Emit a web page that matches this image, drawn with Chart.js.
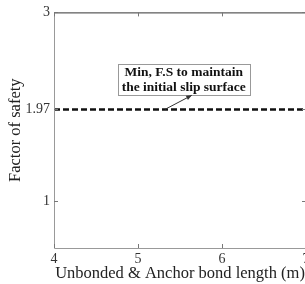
<!DOCTYPE html>
<html>
<head>
<meta charset="utf-8">
<script src="https://cdn.jsdelivr.net/npm/chart.js@4/dist/chart.umd.min.js"></script>
<style>
  html, body { margin: 0; padding: 0; background: #fff; overflow: hidden; }
  #wrap { width: 330px; height: 284px; }
</style>
</head>
<body>
<div id="wrap"><canvas id="fsChart"></canvas></div>
<script>
// data
const bondLength = [4, 7];
const minFS = [1.97, 1.97];
const yTicks = [1, 1.97, 3];
const xTicks = [4, 5, 6, 7];
const noteLines = ['Min, F.S to maintain', 'the initial slip surface'];
// note box and arrow, in data units
const noteBox = { x1: 4.76, x2: 6.33, y1: 2.45, y2: 2.12 };
const noteArrow = { fromX: 5.32, fromY: 1.97, toX: 5.64, toY: 2.12 };

const serif = '"Liberation Serif", "DejaVu Serif", serif';

// border + inward ticks like a matlab box
const boxPlugin = {
    id: 'boxPlugin',
    afterDatasetsDraw(chart) {
        const { ctx, chartArea: a, scales } = chart;
        ctx.save();
        ctx.lineWidth = 1;
        // left & bottom grey, top & right dark
        ctx.strokeStyle = '#999';
        ctx.beginPath();
        ctx.moveTo(a.left + 0.5, a.top);
        ctx.lineTo(a.left + 0.5, a.bottom + 0.5);
        ctx.lineTo(a.right, a.bottom + 0.5);
        ctx.stroke();
        ctx.strokeStyle = '#333';
        ctx.beginPath();
        ctx.moveTo(a.left, a.top + 0.5);
        ctx.lineTo(a.right + 0.5, a.top + 0.5);
        ctx.lineTo(a.right + 0.5, a.bottom);
        ctx.stroke();
        // ticks
        ctx.strokeStyle = '#777';
        xTicks.forEach(v => {
            const px = Math.round(scales.x.getPixelForValue(v)) + 0.5;
            ctx.beginPath();
            ctx.moveTo(px, a.bottom); ctx.lineTo(px, a.bottom - 4);
            ctx.moveTo(px, a.top); ctx.lineTo(px, a.top + 4);
            ctx.stroke();
        });
        yTicks.forEach(v => {
            const py = Math.round(scales.y.getPixelForValue(v)) + 0.5;
            ctx.beginPath();
            ctx.moveTo(a.left, py); ctx.lineTo(a.left + 4, py);
            ctx.moveTo(a.right, py); ctx.lineTo(a.right - 4, py);
            ctx.stroke();
        });

        // note box
        const bx1 = scales.x.getPixelForValue(noteBox.x1);
        const bx2 = scales.x.getPixelForValue(noteBox.x2);
        const by1 = scales.y.getPixelForValue(noteBox.y1);
        const by2 = scales.y.getPixelForValue(noteBox.y2);
        ctx.fillStyle = '#fff';
        ctx.fillRect(bx1, by1, bx2 - bx1, by2 - by1);
        ctx.strokeStyle = '#999';
        ctx.strokeRect(Math.round(bx1) + 0.5, Math.round(by1) + 0.5, Math.round(bx2 - bx1), Math.round(by2 - by1));
        ctx.fillStyle = '#111';
        ctx.font = 'bold 13.5px ' + serif;
        ctx.textAlign = 'center';
        ctx.textBaseline = 'middle';
        const cx = (bx1 + bx2) / 2;
        const h = (by2 - by1) / 2;
        ctx.fillText(noteLines[0], cx, by1 + h * 0.5 + 1);
        ctx.fillText(noteLines[1], cx, by1 + h * 1.5);

        // arrow
        const ax = scales.x.getPixelForValue(noteArrow.fromX);
        const ay = scales.y.getPixelForValue(noteArrow.fromY);
        const tx = scales.x.getPixelForValue(noteArrow.toX);
        const ty = scales.y.getPixelForValue(noteArrow.toY);
        ctx.strokeStyle = '#333';
        ctx.beginPath();
        ctx.moveTo(ax, ay); ctx.lineTo(tx, ty);
        ctx.stroke();
        const ang = Math.atan2(ty - ay, tx - ax);
        ctx.fillStyle = '#333';
        ctx.beginPath();
        ctx.moveTo(tx, ty);
        ctx.lineTo(tx - 6 * Math.cos(ang - 0.4), ty - 6 * Math.sin(ang - 0.4));
        ctx.lineTo(tx - 6 * Math.cos(ang + 0.4), ty - 6 * Math.sin(ang + 0.4));
        ctx.closePath();
        ctx.fill();
        ctx.restore();
    }
};

const ctx = document.getElementById('fsChart').getContext('2d');
new Chart(ctx, {
    type: 'scatter',
    data: {
        datasets: [{
            data: bondLength.map((x, i) => ({ x: x, y: minFS[i] })),
            showLine: true,
            borderColor: '#111',
            borderWidth: 2.5,
            borderDash: [6, 3],
            pointRadius: 0,
            fill: false
        }]
    },
    options: {
        responsive: true,
        maintainAspectRatio: false,
        animation: false,
        layout: { padding: { left: 0, top: 11, right: 24, bottom: 0 } },
        plugins: { legend: { display: false }, tooltip: { enabled: false } },
        scales: {
            x: {
                type: 'linear',
                min: 4,
                max: 7,
                afterBuildTicks: axis => { axis.ticks = xTicks.map(v => ({ value: v })); },
                afterFit: axis => { axis.height = 36; },
                grid: { display: false, drawTicks: false },
                border: { display: false },
                ticks: { padding: 3, color: '#333', font: { family: serif, size: 14 } },
                title: {
                    display: true,
                    text: 'Unbonded & Anchor bond length (m)',
                    color: '#222',
                    padding: { top: 1, bottom: 0 },
                    font: { family: serif, size: 16.5 }
                }
            },
            y: {
                min: 0.5,
                max: 3,
                afterBuildTicks: axis => { axis.ticks = yTicks.map(v => ({ value: v })); },
                afterFit: axis => { axis.width = 54; },
                grid: { display: false, drawTicks: false },
                border: { display: false },
                ticks: { padding: 4, color: '#333', font: { family: serif, size: 14 },
                    callback: v => String(v) },
                title: {
                    display: true,
                    text: 'Factor of safety',
                    color: '#222',
                    padding: { top: 6, bottom: 0 },
                    font: { family: serif, size: 16.5 }
                }
            }
        }
    },
    plugins: [boxPlugin]
});
</script>
</body>
</html>
